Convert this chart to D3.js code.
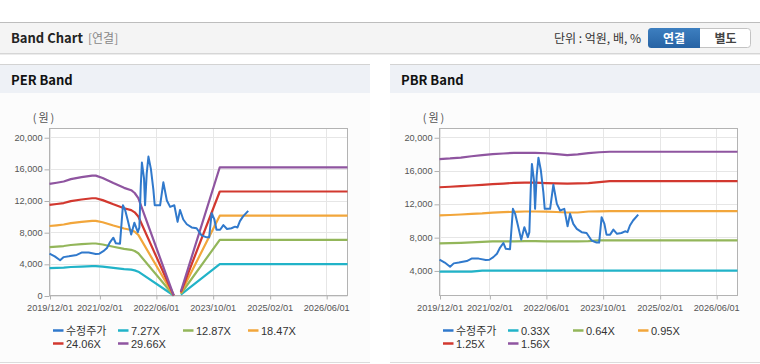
<!DOCTYPE html>
<html><head><meta charset="utf-8">
<script src="https://cdn.jsdelivr.net/npm/d3@7/dist/d3.min.js"></script>
<style>
html,body{margin:0;padding:0;background:#fff;}
svg{display:block;}
</style></head>
<body>
<svg id="c" width="760" height="364"></svg>
<script>
// ---------- DATA ----------
const priceDates = ["2019-12-01","2020-01-15","2020-03-01","2020-04-01","2020-05-15","2020-07-22","2020-09-01","2020-11-01","2021-01-01","2021-02-01","2021-03-07","2021-04-07","2021-05-04","2021-06-01","2021-06-22","2021-07-28","2021-08-22","2021-09-10","2021-10-04","2021-11-01","2021-11-28","2021-12-28","2022-01-10","2022-01-22","2022-02-01","2022-02-19","2022-02-28","2022-03-14","2022-03-29","2022-04-19","2022-05-10","2022-05-22","2022-07-07","2022-08-04","2022-09-03","2022-10-01","2022-11-06","2022-12-04","2022-12-25","2023-01-22","2023-02-21","2023-04-04","2023-05-16","2023-06-28","2023-08-10","2023-09-01","2023-09-22","2023-10-16","2023-11-03","2023-12-04","2024-01-01","2024-02-01","2024-03-10","2024-04-10","2024-05-01","2024-05-22","2024-06-18","2024-08-01"];
const priceValues = [5300,4950,4450,4850,4950,5130,5420,5420,5250,5280,5600,6000,6750,7300,6600,6550,11400,10800,9400,7700,9200,8000,8600,13800,16800,14800,11400,15400,17550,16000,13400,11400,11400,14300,12000,11200,11400,9300,10800,9600,9000,8600,8500,7600,7350,7350,10400,9600,8300,8300,8900,8400,8500,8700,8600,9400,10000,10700];

const perDates = ["2019-12-01","2020-02-01","2020-04-01","2020-06-01","2020-09-01","2020-12-01","2021-01-01","2021-03-01","2021-06-01","2021-09-01","2021-11-01","2021-12-01","2022-01-01","2022-11-01","2022-12-01","2023-01-01","2023-12-01","2026-12-01"];
const perLabels = ["7.27X","12.87X","18.47X","24.06X","29.66X"];
const per727  = [3460,3490,3530,3600,3660,3710,3710,3640,3480,3330,3260,3170,3010,0,null,120,3970,3970];
const per1287 = [6120,6180,6250,6380,6490,6570,6570,6440,6160,5900,5770,5620,5340,0,null,220,7030,7030];
const per1847 = [8780,8870,8970,9150,9310,9430,9430,9250,8840,8470,8280,8060,7660,0,null,310,10090,10090];
const per2406 = [11440,11560,11680,11920,12130,12290,12290,12050,11520,11030,10790,10510,9980,0,null,410,13140,13140];
const per2966 = [14100,14250,14400,14700,14950,15150,15150,14850,14200,13600,13300,12950,12300,0,null,500,16200,16200];

const pbrDates = ["2019-12-01","2020-03-01","2020-06-01","2020-09-01","2020-12-01","2021-03-01","2021-06-01","2021-09-01","2021-12-01","2022-03-01","2022-06-01","2022-09-01","2022-12-01","2023-03-01","2023-06-01","2023-09-01","2023-12-01","2026-12-01"];
const pbrLabels = ["0.33X","0.64X","0.95X","1.25X","1.56X"];
const pbr033 = [3860,3860,3860,3860,3970,3970,3970,3970,3970,3970,3970,3970,3970,3970,3970,3970,3970,3970];
const pbr064 = [7260,7280,7320,7380,7440,7480,7500,7500,7520,7520,7500,7500,7500,7500,7520,7600,7620,7620];
const pbr095 = [10610,10660,10720,10800,10860,10950,11000,11040,11080,11080,11060,11020,10960,10960,11080,11100,11130,11130];
const pbr125 = [13990,14050,14120,14200,14280,14360,14440,14520,14560,14540,14500,14460,14440,14460,14480,14600,14720,14720];
const pbr156 = [17380,17450,17550,17720,17850,17980,18050,18120,18140,18120,18080,17980,17860,17950,18100,18200,18260,18260];

const xTickLabels = ["2019/12/01","2021/02/01","2022/06/01","2023/10/01","2025/02/01","2026/06/01"];
const perYTicks = [0,4000,8000,12000,16000,20000];
const pbrYTicks = [4000,8000,12000,16000,20000];
const priceLabel = "수정주가";

// ---------- STYLE ----------
const colors = {price:"#3079cc", b:["#21b3c8","#93b65a","#f2a63b","#d2382f","#8f55a0"]};
const parse = d3.timeParse("%Y-%m-%d");
const parseTick = d3.timeParse("%Y/%m/%d");
const svg = d3.select("#c");
const latin = "'Liberation Sans', Arial, sans-serif";
const kr = "'Noto Sans CJK KR', 'Noto Sans', sans-serif";

// ---------- TOP BAR ----------
svg.append("rect").attr("x",0).attr("y",22).attr("width",760).attr("height",31).attr("fill","#f4f4f4");
svg.append("line").attr("x1",0).attr("x2",760).attr("y1",22.5).attr("y2",22.5).attr("stroke","#bdbdbd");
svg.append("line").attr("x1",0).attr("x2",760).attr("y1",53.5).attr("y2",53.5).attr("stroke","#d6d6d6");
svg.append("line").attr("x1",0).attr("x2",760).attr("y1",54.5).attr("y2",54.5).attr("stroke","#ececec");
svg.append("text").attr("x",11).attr("y",43).attr("font-family",kr).attr("font-weight","bold")
  .attr("font-size",13).attr("fill","#222").text("Band Chart");
svg.append("text").attr("x",88).attr("y",43).attr("font-family",kr)
  .attr("font-size",12).attr("fill","#888").text("[연결]");
svg.append("text").attr("x",641).attr("y",43).attr("text-anchor","end").attr("font-family",kr)
  .attr("font-size",12).attr("fill","#333").text("단위 : 억원, 배, %");
// buttons
const grad = svg.append("defs").append("linearGradient").attr("id","bg").attr("x1",0).attr("x2",0).attr("y1",0).attr("y2",1);
grad.append("stop").attr("offset","0").attr("stop-color","#3d7fc0");
grad.append("stop").attr("offset","1").attr("stop-color","#2763a4");
svg.append("rect").attr("x",648.5).attr("y",28.5).attr("width",102).attr("height",19).attr("rx",3)
  .attr("fill","#fff").attr("stroke","#c3c3c3");
svg.append("path").attr("d","M700,28 L651.5,28 Q648,28 648,31.5 L648,44.5 Q648,48 651.5,48 L700,48 Z")
  .attr("fill","url(#bg)");
svg.append("text").attr("x",674).attr("y",42.5).attr("text-anchor","middle").attr("font-family",kr)
  .attr("font-weight","bold").attr("font-size",12).attr("fill","#fff").text("연결");
svg.append("text").attr("x",725.5).attr("y",42.5).attr("text-anchor","middle").attr("font-family",kr)
  .attr("font-weight","bold").attr("font-size",12).attr("fill","#444").text("별도");

// ---------- PANELS ----------
function panel(px, title) {
  const g = svg.append("g");
  g.append("rect").attr("x",px).attr("y",64).attr("width",370).attr("height",298).attr("fill","#fcfcfc");
  g.append("rect").attr("x",px).attr("y",64).attr("width",370).attr("height",29).attr("fill","#eef1f6");
  g.append("line").attr("x1",px).attr("x2",px+370).attr("y1",64.5).attr("y2",64.5).attr("stroke","#d3d3d3");
  g.append("line").attr("x1",px).attr("x2",px+370).attr("y1",362.5).attr("y2",362.5).attr("stroke","#dcdcdc");
  g.append("text").attr("x",px+11).attr("y",85).attr("font-family",kr).attr("font-weight","bold")
    .attr("font-size",13).attr("fill","#111").text(title);
}
panel(0,"PER Band");
panel(390,"PBR Band");

function chart(opt) {
  const x0 = opt.x0, x1 = x0 + 298, yTop = 128.5, yBot = 295.5;
  const x = d3.scaleTime().domain([parse("2019-12-01"), parse("2026-12-01")]).range([x0, x1]);
  const y = d3.scaleLinear().domain(opt.yDomain).range([yBot, yTop]);
  const g = svg.append("g");
  g.append("rect").attr("x",x0).attr("y",yTop).attr("width",298).attr("height",yBot-yTop).attr("fill","#fff");
  const tickDates = xTickLabels.map(parseTick);
  // grid
  g.selectAll(".vg").data(tickDates).join("line")
    .attr("x1",d=>Math.round(x(d))+0.5).attr("x2",d=>Math.round(x(d))+0.5)
    .attr("y1",yTop).attr("y2",yBot).attr("stroke","#e6e6e6");
  g.selectAll(".hg").data(opt.yTicks).join("line")
    .attr("x1",x0).attr("x2",x1).attr("y1",d=>Math.round(y(d))+0.5).attr("y2",d=>Math.round(y(d))+0.5)
    .attr("stroke","#e6e6e6");
  // axes
  const ax = d3.axisBottom(x).tickValues(tickDates).tickFormat(d3.timeFormat("%Y/%m/%d")).tickSize(4).tickSizeOuter(0);
  const xa = g.append("g").attr("transform",`translate(0,${yBot})`).call(ax);
  xa.select(".domain").remove();
  xa.selectAll("line").attr("stroke","#b0b0b0").attr("transform","translate(0.5,0)");
  xa.selectAll("text").attr("fill","#555").attr("font-family",latin).attr("font-size",9.2).attr("dy","0.95em");
  const ay = d3.axisLeft(y).tickValues(opt.yTicks).tickFormat(d3.format(",")).tickSize(5).tickSizeOuter(0);
  const ya = g.append("g").attr("transform",`translate(${x0},0)`).call(ay);
  ya.select(".domain").remove();
  ya.selectAll("line").attr("stroke","#b0b0b0").attr("transform","translate(0,0.5)");
  ya.selectAll("text").attr("fill","#555").attr("font-family",latin).attr("font-size",9.2).attr("x",-7);
  g.append("rect").attr("x",x0).attr("y",yTop).attr("width",298).attr("height",yBot-yTop)
    .attr("fill","none").attr("stroke","#b3b3b3");
  g.append("text").attr("x",x0-5).attr("y",122).attr("text-anchor","middle").attr("font-family",kr)
    .attr("font-size",11).attr("letter-spacing",2).attr("fill","#555").text("(원)");
  // bands
  const line = d3.line().defined(d=>d.v!=null).x(d=>x(d.d)).y(d=>y(d.v));
  const bandDates = opt.bandDates.map(parse);
  opt.bands.forEach((arr,i)=>{
    g.append("path").datum(arr.map((v,k)=>({d:bandDates[k],v})))
      .attr("d",line).attr("fill","none").attr("stroke",colors.b[i]).attr("stroke-width",2.2)
      .attr("stroke-linejoin","round");
  });
  // price
  g.append("path").datum(priceValues.map((v,k)=>({d:parse(priceDates[k]),v})))
    .attr("d",line).attr("fill","none").attr("stroke",colors.price).attr("stroke-width",2)
    .attr("stroke-linejoin","round");
  // legend
  const items = [{t:priceLabel,c:colors.price}].concat(opt.labels.map((t,i)=>({t,c:colors.b[i]})));
  items.forEach((it,i)=>{
    const row = i<4?0:1, col = i<4?i:i-4;
    const lx = x0 + 3.5 + col*65, ly = row===0?330.5:343.5;
    g.append("line").attr("x1",lx).attr("x2",lx+10.5).attr("y1",ly).attr("y2",ly)
      .attr("stroke",it.c).attr("stroke-width",2.5);
    g.append("text").attr("x",lx+13).attr("y",ly+4).attr("font-family",i===0?kr:latin)
      .attr("font-size",11).attr("fill","#333").text(it.t);
  });
}

chart({x0:49.5, yDomain:[0,21100], yTicks:perYTicks, bandDates:perDates,
  bands:[per727,per1287,per1847,per2406,per2966], labels:perLabels});
chart({x0:439.5, yDomain:[990,21050], yTicks:pbrYTicks, bandDates:pbrDates,
  bands:[pbr033,pbr064,pbr095,pbr125,pbr156], labels:pbrLabels});
</script>
</body></html>
